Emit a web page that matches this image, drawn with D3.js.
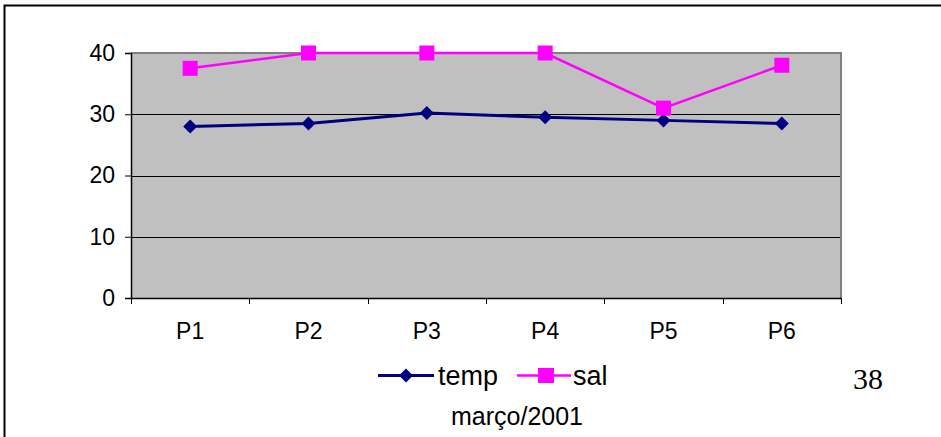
<!DOCTYPE html>
<html>
<head>
<meta charset="utf-8">
<script src="https://cdn.jsdelivr.net/npm/d3@7"></script>
<style>
  html, body { margin: 0; padding: 0; background: #fff; }
  svg { display: block; }
</style>
</head>
<body>
<svg id="chart" width="941" height="437"></svg>
<script>
// Sampling points and measured values (março/2001)
const categories = ["P1", "P2", "P3", "P4", "P5", "P6"];
const temp = [28.0, 28.5, 30.2, 29.5, 29.0, 28.5];
const sal = [37.5, 40, 40, 40, 31, 38];
const yTicks = [0, 10, 20, 30, 40];
const seriesNames = ["temp", "sal"];
const chartTitle = "março/2001";
const pageNumber = "38";

const svg = d3.select("#chart");
const font = "'Liberation Sans', Arial, sans-serif";

const plot = { left: 131, right: 841, top: 53, bottom: 298 };

const x = d3.scaleBand().domain(categories).range([plot.left, plot.right]);
const y = d3.scaleLinear().domain([0, 40]).range([plot.bottom, plot.top]);

// outer frame
svg.append("rect")
  .attr("x", 4.5).attr("y", 5.5).attr("width", 1000).attr("height", 1000)
  .attr("fill", "none").attr("stroke", "#000").attr("stroke-width", 2);

// plot background
svg.append("rect")
  .attr("x", plot.left).attr("y", plot.top)
  .attr("width", plot.right - plot.left).attr("height", plot.bottom - plot.top)
  .attr("fill", "#c0c0c0");

// gridlines
svg.append("g").selectAll("line")
  .data(yTicks.filter(d => d > 0 && d < 40))
  .join("line")
  .attr("x1", plot.left).attr("x2", plot.right)
  .attr("y1", d => Math.round(y(d)) + 0.5).attr("y2", d => Math.round(y(d)) + 0.5)
  .attr("stroke", "#000").attr("stroke-width", 1);

// plot border (top and right in gray)
svg.append("path")
  .attr("d", `M${plot.left},${plot.top} H${plot.right} V${plot.bottom}`)
  .attr("fill", "none").attr("stroke", "#808080").attr("stroke-width", 2);

// y axis
const yAxis = d3.axisLeft(y).tickValues(yTicks).tickSize(6).tickPadding(10);
const gy = svg.append("g").attr("transform", `translate(${plot.left},0)`).call(yAxis);
gy.select(".domain").attr("stroke", "#000").attr("stroke-width", 1.5);
gy.selectAll(".tick line").attr("stroke", "#000");
gy.selectAll("text").attr("font-family", font).attr("font-size", 23).attr("fill", "#000");

// x axis
const xAxis = d3.axisBottom(x).tickSize(0).tickPadding(25);
const gx = svg.append("g").attr("transform", `translate(0,${plot.bottom})`).call(xAxis);
gx.select(".domain").attr("stroke", "#000").attr("stroke-width", 1.5);
gx.selectAll("text").attr("font-family", font).attr("font-size", 23).attr("fill", "#000");
// category boundary ticks
const bounds = categories.map(c => x(c)).concat([plot.right]);
svg.append("g").selectAll("line")
  .data(bounds).join("line")
  .attr("x1", d => Math.round(d) + 0.5).attr("x2", d => Math.round(d) + 0.5)
  .attr("y1", plot.bottom).attr("y2", plot.bottom + 6)
  .attr("stroke", "#000");

const cx = c => x(c) + x.bandwidth() / 2;
const line = d3.line().x((d, i) => cx(categories[i])).y(d => y(d));

const tempColor = "#000080";
const salColor = "#ff00ff";

// temp series
svg.append("path").datum(temp).attr("d", line)
  .attr("fill", "none").attr("stroke", tempColor).attr("stroke-width", 3);
const diamond = (cxv, cyv, r) => `M${cxv},${cyv - r} L${cxv + r},${cyv} L${cxv},${cyv + r} L${cxv - r},${cyv} Z`;
svg.append("g").selectAll("path").data(temp).join("path")
  .attr("d", (d, i) => diamond(cx(categories[i]), y(d), 7))
  .attr("fill", tempColor);

// sal series
svg.append("path").datum(sal).attr("d", line)
  .attr("fill", "none").attr("stroke", salColor).attr("stroke-width", 2.5);
svg.append("g").selectAll("rect").data(sal).join("rect")
  .attr("x", (d, i) => cx(categories[i]) - 7.5).attr("y", d => y(d) - 7.5)
  .attr("width", 15).attr("height", 15)
  .attr("fill", salColor);

// legend
const ly = 375.5;
const legend = svg.append("g");
legend.append("line").attr("x1", 378).attr("x2", 434).attr("y1", ly).attr("y2", ly)
  .attr("stroke", tempColor).attr("stroke-width", 3);
legend.append("path").attr("d", diamond(406, ly, 7)).attr("fill", tempColor);
legend.append("text").attr("x", 438).attr("y", ly).attr("dy", "0.36em")
  .attr("font-family", font).attr("font-size", 27).text(seriesNames[0]);
legend.append("line").attr("x1", 517).attr("x2", 571).attr("y1", ly).attr("y2", ly)
  .attr("stroke", salColor).attr("stroke-width", 2.5);
legend.append("rect").attr("x", 538).attr("y", ly - 7.5).attr("width", 16).attr("height", 15)
  .attr("fill", salColor);
legend.append("text").attr("x", 573).attr("y", ly).attr("dy", "0.36em")
  .attr("font-family", font).attr("font-size", 27).text(seriesNames[1]);

// title
svg.append("text").attr("x", 517).attr("y", 425).attr("text-anchor", "middle")
  .attr("font-family", font).attr("font-size", 25).text(chartTitle);

// page number
svg.append("text").attr("x", 853).attr("y", 389)
  .attr("font-family", "'Liberation Serif', 'Times New Roman', serif").attr("font-size", 30)
  .text(pageNumber);
</script>
</body>
</html>
